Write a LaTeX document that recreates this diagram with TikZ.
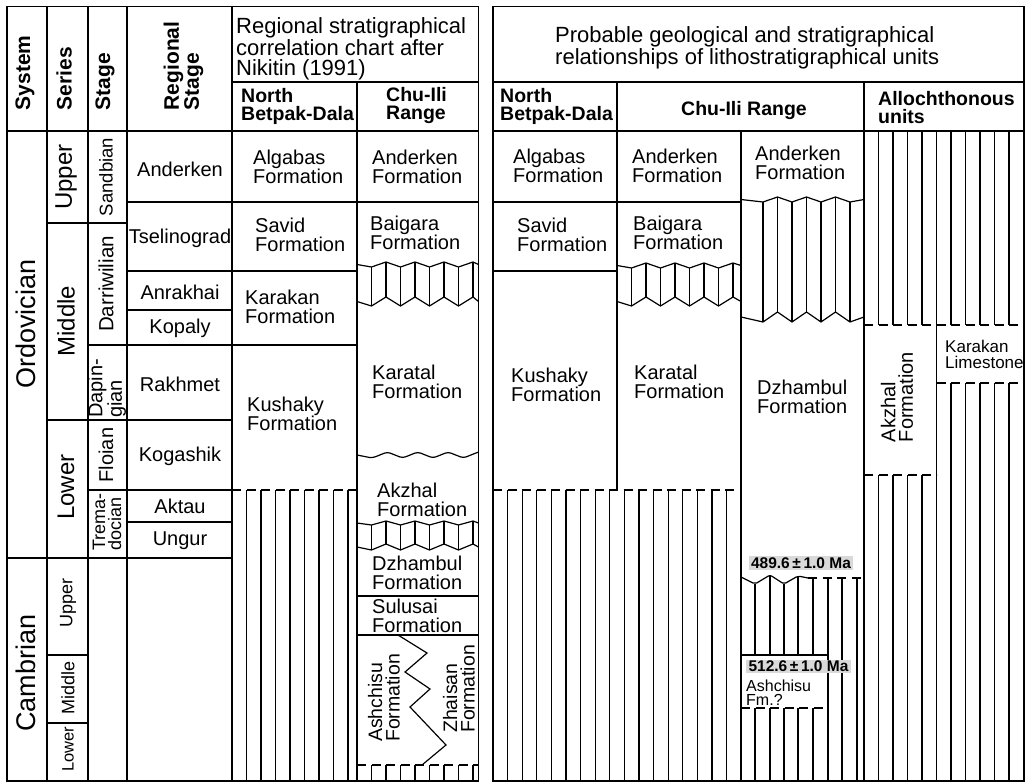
\documentclass[tikz,border=0pt]{standalone}
\usepackage{fontspec}
\setmainfont{Liberation Sans}
% zig-zag bounded hatch zone: x0, x1, first-offset, n lines, ytop, top amp, ybot, bottom amp
\newcommand\zigzone[8]{%
  \draw[zz] (#1,{#5+#6/2}) \foreach \i in {1,...,#4}{ -- ({#1+#3+14.5*(\i-1)},{#5+#6*mod(\i,2)}) } -- (#2,{#5+#6/2});
  \draw[zz] (#1,{#7-#8/2}) \foreach \i in {1,...,#4}{ -- ({#1+#3+14.5*(\i-1)},{#7-#8*mod(\i+1,2)}) } -- (#2,{#7-#8/2});
  \foreach \i in {1,...,#4}{\draw[hl] ({#1+#3+14.5*(\i-1)},{#5+#6*mod(\i,2)}) -- ({#1+#3+14.5*(\i-1)},{#7-#8*mod(\i+1,2)});}
}
\begin{document}
\begin{tikzpicture}[x=1pt,y=-1pt,
  ln/.style={line width=1.3pt},
  ob/.style={line width=1.6pt},
  hl/.style={line width=1.3pt},
  dl/.style={line width=1.3pt, dash pattern=on 9pt off 5.5pt},
  zz/.style={line width=1.2pt, line join=miter},
  txt/.style={inner sep=0pt, align=left, font=\fontsize{20}{19}\selectfont},
  small/.style={inner sep=0pt, align=left, font=\fontsize{16}{14}\selectfont},
  ttl/.style={inner sep=0pt, align=left, font=\fontsize{22}{20}\selectfont},
  sub/.style={inner sep=0pt, align=left, font=\fontsize{19.5}{18}\selectfont\bfseries},
  hdr/.style={inner sep=0pt, align=left, rotate=90, anchor=west, font=\fontsize{21}{20}\selectfont\bfseries},
  rot/.style={inner sep=0pt, align=left, rotate=90},
  glab/.style={fill=black!15, inner xsep=2.5pt, inner ysep=1.5pt, font=\fontsize{15.5}{16}\selectfont\bfseries}
]
\useasboundingbox (0,0) rectangle (1026,784);

% ================= LEFT TABLE =================
\draw[ob] (7,6.5) rectangle (478.5,781);
\draw[ln] (47,6.5) -- (47,781);
\draw[ln] (88,6.5) -- (88,781);
\draw[ln] (127,6.5) -- (127,781);
\draw[ln] (232,6.5) -- (232,781);
\draw[ln] (357,82) -- (357,781);
\draw[ln] (232,82) -- (478.5,82);
\draw[ln] (7,131) -- (478.5,131);
\draw[ln] (47,223) -- (127,223);
\draw[ln] (127,202) -- (478.5,202);
\draw[ln] (127,271) -- (357,271);
\draw[ln] (127,310) -- (232,310);
\draw[ln] (88,345) -- (357,345);
\draw[ln] (47,420) -- (232,420);
\draw[ln] (88,490) -- (232,490);
\draw[ln] (127,522) -- (232,522);
\draw[ln] (7,558) -- (232,558);
\draw[ln] (47,655) -- (88,655);
\draw[ln] (47,723) -- (88,723);
\draw[ln] (357,596) -- (478.5,596);
\draw[ln] (357,635) -- (478.5,635);

% hatch left North Betpak-Dala
\foreach \k in {1,...,8} \draw[hl] ({232+14.5*\k},490) -- ({232+14.5*\k},781);
\draw[dl] (232,490) -- (357,490);
% hatch zones left Chu-Ili
\zigzone{357}{478.5}{14.5}{8}{262}{5}{306}{9}
\zigzone{357}{478.5}{14.5}{8}{521}{4}{550}{6}
\draw[zz, rounded corners=3pt] (357,455) \foreach \i in {1,...,8}{ -- ({357+15.19*\i},{455+3*(2*mod(\i,2)-1)}) };
\foreach \k in {1,...,8} \draw[hl] ({357+14.5*\k},765) -- ({357+14.5*\k},781);
\draw[dl] (357,765) -- (478.5,765);
% Ashchisu / Zhaisan boundary
\draw[zz] (398,635) -- (427,653) -- (405,672) -- (430,689) -- (410,707) -- (446,745) -- (422,765);

% header texts left
\node[hdr] (hSys) at (25,110.5) {System};
\node[hdr] (hSer) at (64,110.5) {Series};
\node[hdr] (hStg) at (105,110.5) {Stage};
\node[hdr] (hReg) at (183.5,110.5) {Regional\\Stage};
\node[ttl, anchor=north west] (tL) at (236,17.5) {Regional stratigraphical\\correlation chart after\\Nikitin (1991)};
\node[sub, anchor=west] (sLNB) at (241,106) {North\\Betpak-Dala};
\node[sub, anchor=west] (sLCI) at (386,106) {Chu-Ili\\Range};

% system / series / stage
\node[rot, font=\fontsize{27}{27}\selectfont] (ord) at (26,324) {Ordovician};
\node[rot, font=\fontsize{27}{27}\selectfont] (cam) at (26,673) {Cambrian};
\node[rot, font=\fontsize{24}{24}\selectfont] (ou) at (66,177) {Upper};
\node[rot, font=\fontsize{24}{24}\selectfont] (om) at (66,321) {Middle};
\node[rot, font=\fontsize{24}{24}\selectfont] (ol) at (66,487) {Lower};
\node[rot, font=\fontsize{18}{18}\selectfont] (cu) at (68,603) {Upper};
\node[rot, font=\fontsize{18}{18}\selectfont] (cm) at (68,688) {Middle};
\node[rot, font=\fontsize{16.5}{16.5}\selectfont] (cl) at (68,749) {Lower};
\node[rot, font=\fontsize{18.5}{18}\selectfont] (sand) at (106,177) {Sandbian};
\node[rot, font=\fontsize{20.5}{18}\selectfont] (darr) at (106,284) {Darriwilian};
\node[rot, anchor=west, font=\fontsize{20}{17}\selectfont] (dap) at (107,418) {Dapin-\\gian};
\node[rot, font=\fontsize{20}{18}\selectfont] (flo) at (106,455) {Floian};
\node[rot, anchor=west, font=\fontsize{18}{16}\selectfont] (tre) at (107,551) {Trema-\\docian};

% regional stages
\node[txt] (rAnd) at (180,169) {Anderken};
\node[txt] (rTse) at (180,238) {Tselinograd};
\node[txt] (rAnr) at (180,292) {Anrakhai};
\node[txt] (rKop) at (180,328) {Kopaly};
\node[txt] (rRak) at (180,384) {Rakhmet};
\node[txt] (rKog) at (180,456) {Kogashik};
\node[txt] (rAkt) at (180,506) {Aktau};
\node[txt] (rUng) at (180,541) {Ungur};

% formations left
\node[txt, anchor=west] (lAlg) at (253,167) {Algabas\\Formation};
\node[txt, anchor=west] (lSav) at (255,235) {Savid\\Formation};
\node[txt, anchor=west] (lKar) at (245,307) {Karakan\\Formation};
\node[txt, anchor=west] (lKus) at (247,414) {Kushaky\\Formation};
\node[txt, anchor=west] (lAnd) at (372,167) {Anderken\\Formation};
\node[txt, anchor=west] (lBai) at (370,233) {Baigara\\Formation};
\node[txt, anchor=west] (lKrt) at (372,382) {Karatal\\Formation};
\node[txt, anchor=west] (lAkz) at (377,500) {Akzhal\\Formation};
\node[txt, anchor=west] (lDzh) at (372,573) {Dzhambul\\Formation};
\node[txt, anchor=west] (lSul) at (372,616) {Sulusai\\Formation};
\node[rot, font=\fontsize{19.5}{17.5}\selectfont] (lAsh) at (384,698) {Ashchisu\\Formation};
\node[rot, font=\fontsize{19.5}{17.5}\selectfont] (lZha) at (459,689) {Zhaisan\\Formation};

% ================= RIGHT TABLE =================
\draw[ob] (493,6.5) rectangle (1024,781);
\draw[ln] (493,82) -- (1024,82);
\draw[ln] (493,131) -- (1024,131);
\draw[ln] (617,82) -- (617,490);
\draw[ln] (864,82) -- (864,781);
\draw[ln] (741,131) -- (741,781);
\draw[ln] (493,202) -- (741,202);
\draw[ln] (493,271) -- (617,271);

% hatch right NB + Chu-Ili 1
\foreach \k in {1,...,16} \draw[hl] ({493+14.6*\k},490) -- ({493+14.6*\k},781);
\draw[dl] (493,490) -- (741,490);
\zigzone{617}{741}{14.5}{8}{263}{5}{306}{9}
% Chu-Ili 2
\zigzone{741}{864}{22}{7}{197}{5}{322}{10}
\draw[zz, rounded corners=2pt] (741,577) -- (755,584) -- (770,575) -- (784,584) -- (798,576) -- (808,578);
\draw[dl] (808,578) -- (864,578);
\draw[hl] (755,584) -- (755,655);
\draw[hl] (770,575) -- (770,655);
\draw[hl] (784,584) -- (784,655);
\draw[hl] (798,576) -- (798,655);
\draw[hl] (813,578) -- (813,655);
\foreach \x in {755,770,784,798,813} \draw[hl] (\x,708) -- (\x,781);
\draw[hl] (828,578) -- (828,781);
\draw[hl] (842,578) -- (842,781);
\draw[hl] (857,578) -- (857,781);
\draw[ln] (741,655) -- (828,655);
\draw[dl] (741,708) -- (828,708);

% Allochthonous
\foreach \k in {1,...,10} \draw[hl] ({864+14.5*\k},131) -- ({864+14.5*\k},325);
\draw[dl] (864,325) -- (1024,325);
\draw[hl] (936.5,325) -- (936.5,781);
\foreach \k in {1,...,4} \draw[hl] ({864+14.5*\k},475) -- ({864+14.5*\k},781);
\draw[dl] (864,475) -- (936.5,475);
\foreach \k in {6,...,10} \draw[hl] ({864+14.5*\k},383) -- ({864+14.5*\k},781);
\draw[dl] (936.5,383) -- (1024,383);

% header texts right
\node[ttl, anchor=north west] (tR) at (555,26.5) {Probable geological and stratigraphical\\relationships of lithostratigraphical units};
\node[sub, anchor=west] (sRNB) at (500,106) {North\\Betpak-Dala};
\node[sub] (sRCI) at (744,111) {Chu-Ili Range};
\node[sub, anchor=west] (sRAl) at (878,107.5) {Allochthonous\\units};

% formations right
\node[txt, anchor=west] (rAlg) at (513,166) {Algabas\\Formation};
\node[txt, anchor=west] (rSav) at (517,235) {Savid\\Formation};
\node[txt, anchor=west] (rKus) at (511,385) {Kushaky\\Formation};
\node[txt, anchor=west] (rAnd1) at (632,166) {Anderken\\Formation};
\node[txt, anchor=west] (rBai) at (633,233) {Baigara\\Formation};
\node[txt, anchor=west] (rKrt) at (634,382) {Karatal\\Formation};
\node[txt, anchor=west] (rAnd2) at (755,163) {Anderken\\Formation};
\node[txt, anchor=west] (rDzh) at (757,397) {Dzhambul\\Formation};
\node[rot, font=\fontsize{20}{17.5}\selectfont] (rAkz) at (897,397) {Akzhal\\Formation};
\node[inner sep=0pt, align=left, anchor=west, font=\fontsize{17}{16}\selectfont] (rKarL) at (945,354) {Karakan\\Limestone};

% ages
\node[glab] (g489) at (801,563) {489.6\,±\,1.0 Ma};
\node[glab] (g512) at (798.5,666.5) {512.6\,±\,1.0 Ma};
\node[small, anchor=north west] (ashfm) at (746,679.5) {Ashchisu\\Fm.?};
\end{tikzpicture}
\end{document}
